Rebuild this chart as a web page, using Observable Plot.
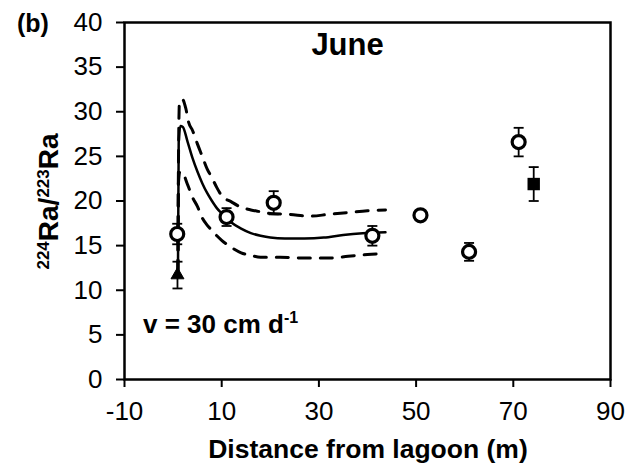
<!DOCTYPE html>
<html>
<head>
<meta charset="utf-8">
<script src="https://cdn.jsdelivr.net/npm/d3@7"></script>
<script src="https://cdn.jsdelivr.net/npm/@observablehq/plot@0.6"></script>
<style>
  body { margin: 0; background: #fff; }
  #chart svg { display: block; }
</style>
</head>
<body>
<div id="chart"></div>
<script>
// ---- data ----
const obsDistance = [0.85, 11.0, 20.7, 41.0, 50.9, 60.9, 71.1];
const obsRatio    = [16.3, 18.2, 19.8, 16.1, 18.4, 14.3, 26.6];
const obsError    = [1.15, 1.0, 1.3, 1.1, 0.5, 1.0, 1.6];

const lagoonDistance = [0.9];
const lagoonRatio    = [11.7];
const lagoonError    = [1.5];

const squareDistance = [74.2];
const squareRatio    = [21.9];
const squareError    = [1.9];

const midDistance = [1.0, 1.15, 1.5, 2.0, 3, 4, 5, 6, 7, 8, 9, 10, 11, 12, 14, 16, 18, 20, 23, 27, 31, 35, 39, 43.7];
const midRatio    = [12.0, 26.5, 28.4, 28.3, 26.6, 24.8, 23.3, 22.0, 20.9, 20.0, 19.2, 18.6, 18.1, 17.6, 16.9, 16.4, 16.1, 15.9, 15.8, 15.8, 15.9, 16.2, 16.4, 16.5];

const upperDistance = [1.0, 1.1, 1.3, 1.9, 2.6, 3.2, 4, 5, 6, 7, 8, 9, 10, 12, 14, 16, 18, 20, 24, 28, 32, 36, 40, 43.7];
const upperRatio    = [12.0, 24.0, 31.0, 31.4, 30.4, 28.8, 27.9, 26.4, 25.0, 23.6, 22.6, 21.5, 20.6, 19.9, 19.3, 19.0, 18.8, 18.6, 18.5, 18.3, 18.5, 18.7, 18.9, 19.0];

const lowerDistance = [1.0, 1.1, 1.4, 1.9, 3, 4, 5, 6, 7, 8, 9, 10, 12, 14, 16, 18, 22, 27, 32, 36, 40, 43.5];
const lowerRatio    = [12.0, 22.0, 23.3, 23.2, 21.8, 20.4, 19.4, 18.1, 17.3, 16.7, 16.1, 15.6, 14.8, 14.2, 13.9, 13.7, 13.7, 13.6, 13.6, 13.8, 14.0, 14.1];

const xTicks = [-10, 10, 30, 50, 70, 90];
const yTicks = [0, 5, 10, 15, 20, 25, 30, 35, 40];

const panelLetter = "(b)";
const panelTitle = "June";
const titlePos = {x: 36.0, y: 36.3};
const velocityPos = {x: -6.1, y: 5.15};
const xLabel = "Distance from lagoon (m)";

// ---- tables ----
const toRows = (xs, ys, es) => xs.map((x, i) => ({x, y: ys[i], e: es ? es[i] : 0}));
const obs = toRows(obsDistance, obsRatio, obsError);
const lagoon = toRows(lagoonDistance, lagoonRatio, lagoonError);
const square = toRows(squareDistance, squareRatio, squareError);
const mid = toRows(midDistance, midRatio);
const upper = toRows(upperDistance, upperRatio);
const lower = toRows(lowerDistance, lowerRatio);
const allPts = [...obs, ...lagoon, ...square];

const capSymbol = {
  draw(ctx, size) {
    const r = Math.sqrt(size / Math.PI);
    ctx.moveTo(-r, 0);
    ctx.lineTo(r, 0);
  }
};

const W = 633, H = 469, ML = 124, MR = 23, MT = 22, MB = 90;

const plot = Plot.plot({
  width: W, height: H,
  marginLeft: ML, marginRight: MR, marginTop: MT, marginBottom: MB,
  style: {fontFamily: "'Liberation Sans', Arial, sans-serif", fontSize: "26px", color: "black", background: "white"},
  x: {domain: [-10, 90]},
  y: {domain: [0, 40]},
  marks: [
    Plot.line(upper, {x: "x", y: "y", stroke: "black", strokeWidth: 3, strokeDasharray: "12,10", curve: "monotone-x"}),
    Plot.line(lower, {x: "x", y: "y", stroke: "black", strokeWidth: 3, strokeDasharray: "12,10", curve: "monotone-x"}),
    Plot.line(mid, {x: "x", y: "y", stroke: "black", strokeWidth: 2.5, curve: "monotone-x"}),
    Plot.ruleX(allPts, {x: "x", y1: d => d.y - d.e, y2: d => d.y + d.e, stroke: "black", strokeWidth: 1.8}),
    Plot.dot(allPts, {x: "x", y: d => d.y + d.e, symbol: capSymbol, r: 5, stroke: "black", strokeWidth: 1.8, fill: "none"}),
    Plot.dot(allPts, {x: "x", y: d => d.y - d.e, symbol: capSymbol, r: 5, stroke: "black", strokeWidth: 1.8, fill: "none"}),
    Plot.dot(obs, {x: "x", y: "y", r: 6.5, stroke: "black", strokeWidth: 3.2, fill: "white"}),
    Plot.dot(lagoon, {x: "x", y: "y", symbol: "triangle", r: 4.8, fill: "black", stroke: "black", strokeWidth: 1}),
    Plot.dot(square, {x: "x", y: "y", symbol: "square", r: 7, fill: "black"}),
    Plot.axisX({ticks: xTicks, tickSize: 8, tickPadding: 14, strokeWidth: 2, label: null, tickFormat: d => String(d)}),
    Plot.axisY({ticks: yTicks, tickSize: 8, tickPadding: 14, strokeWidth: 2, label: null, tickFormat: d => String(d)}),
    Plot.frame({stroke: "black", strokeWidth: 2.5})
  ]
});

document.getElementById("chart").appendChild(plot);

const sx = plot.scale("x"), sy = plot.scale("y");
const svg = d3.select(plot);
const FF = "'Liberation Sans', Arial, sans-serif";

// panel letter
svg.append("text").attr("x", 17).attr("y", 32).attr("text-anchor", "start")
  .attr("font-family", FF).attr("font-size", 25).attr("font-weight", "bold")
  .attr("fill", "black").text(panelLetter);

// title
svg.append("text").attr("x", sx.apply(titlePos.x)).attr("y", sy.apply(titlePos.y))
  .attr("text-anchor", "middle").attr("font-family", FF).attr("font-size", 31).attr("font-weight", "bold")
  .attr("fill", "black").text(panelTitle);

// velocity annotation
const vt = svg.append("text").attr("x", sx.apply(velocityPos.x)).attr("y", sy.apply(velocityPos.y))
  .attr("text-anchor", "start")
  .attr("font-family", FF).attr("font-size", 26).attr("font-weight", "bold").attr("fill", "black");
vt.append("tspan").text("v = 30 cm d");
vt.append("tspan").attr("font-size", 16).attr("dy", -10).text("-1");

// x label
svg.append("text").attr("x", (ML + W - MR) / 2 + 1).attr("y", 458)
  .attr("text-anchor", "middle").attr("font-family", FF).attr("font-size", 26.5).attr("font-weight", "bold")
  .attr("fill", "black").text(xLabel);

// y label with superscripts
const yl = svg.append("text")
  .attr("transform", `translate(58,${(MT + H - MB) / 2 + 1}) rotate(-90)`)
  .attr("text-anchor", "middle").attr("font-family", FF).attr("font-weight", "bold")
  .attr("font-size", 28).attr("fill", "black");
yl.append("tspan").attr("font-size", 17).attr("dy", -9).text("224");
yl.append("tspan").attr("dy", 9).text("Ra/");
yl.append("tspan").attr("font-size", 17).attr("dy", -9).text("223");
yl.append("tspan").attr("dy", 9).text("Ra");
</script>
</body>
</html>
